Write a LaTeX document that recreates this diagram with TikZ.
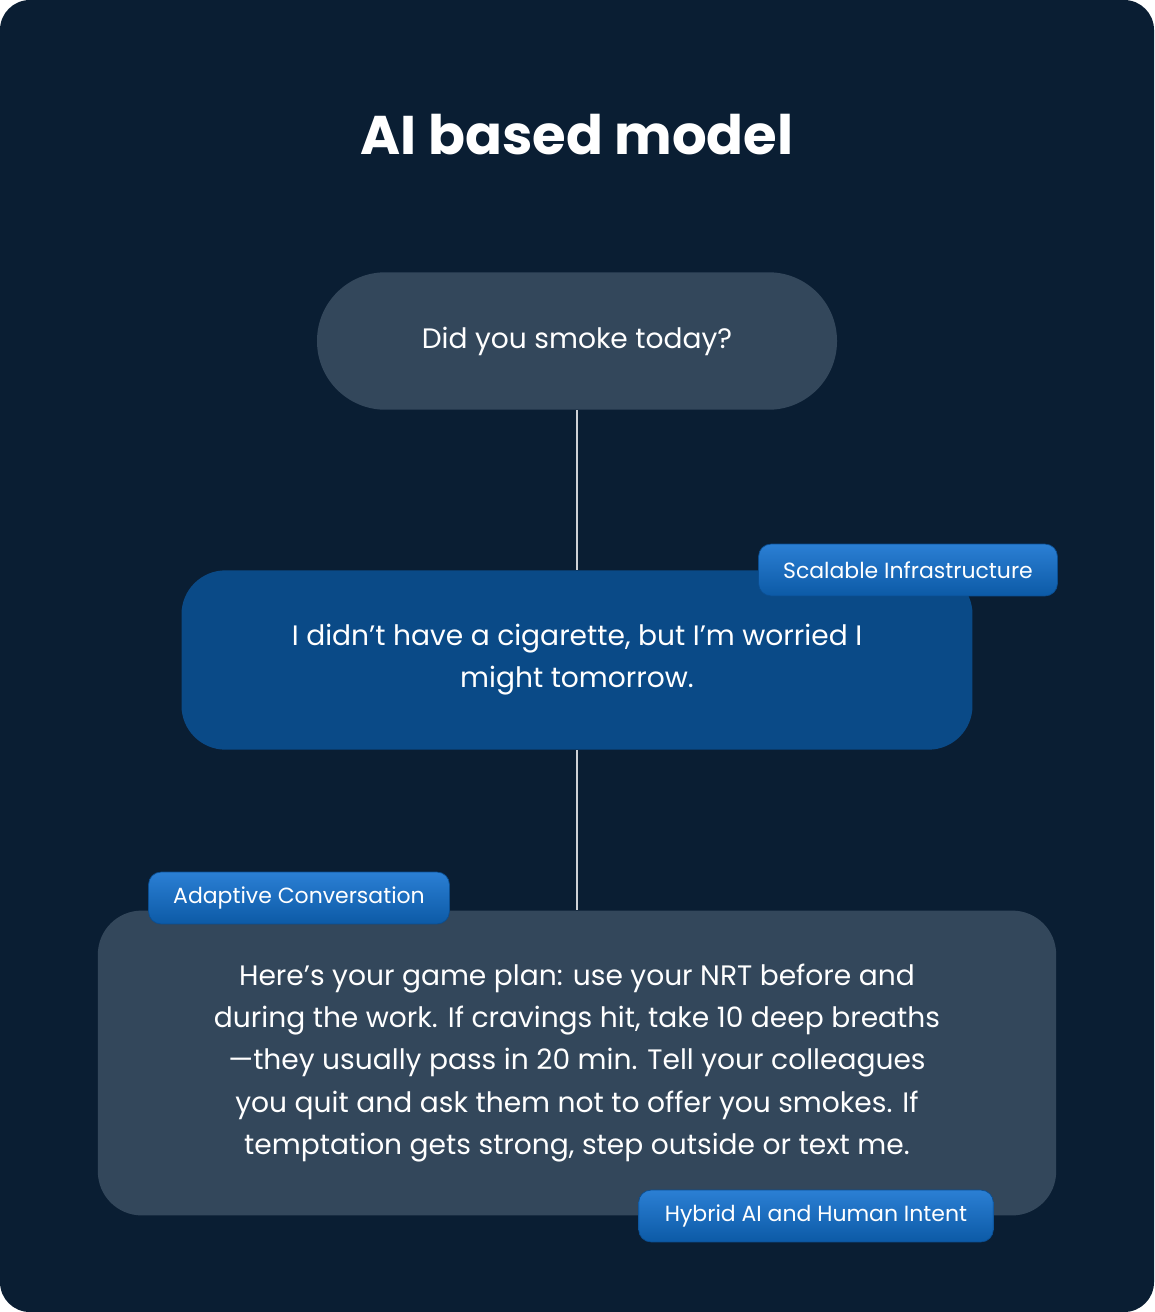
\documentclass[tikz,border=0pt]{standalone}
\usepackage{fontspec}
\setmainfont{Poppins}
\usetikzlibrary{positioning}
\definecolor{bgnavy}{HTML}{0A1E33}
\definecolor{boxgray}{HTML}{33475B}
\definecolor{boxblue}{HTML}{0A4A87}
\definecolor{tagtop}{HTML}{2B7FD4}
\definecolor{tagbot}{HTML}{0C5AA6}
\definecolor{tagedge}{HTML}{0B4E91}
\tikzset{
	bubble/.style={text=white, align=center, inner sep=0pt, font=\fontsize{16}{24}\selectfont},
	tag/.style={rounded corners=7pt, top color=tagtop, bottom color=tagbot, draw=tagedge,
		text=white, minimum height=29.5pt, inner sep=0pt, font=\fontsize{12.5}{14}\selectfont},
	link/.style={draw=white!80!bgnavy, line width=0.6pt}
}
\begin{document}
\begin{tikzpicture}[x=0.02cm, y=-0.02cm]

	% ---- background

	\fill[bgnavy, rounded corners=17pt] (0,0) rectangle (1154,1312);
	\useasboundingbox (0,0) rectangle (1154,1312);

	% ---- title

	\node[text=white, font=\fontsize{31}{36}\selectfont\bfseries] (title) at (577,135) {AI based model};

	% ---- bubbles

	\node[bubble, fill=boxgray, rounded corners=39pt, minimum width=522*0.567pt, minimum height=138*0.567pt]
		(question) at (577,341) {Did you smoke today?};
	\node[bubble, fill=boxblue, rounded corners=25pt, minimum width=794*0.567pt, minimum height=180*0.567pt]
		(answer) at (577,660) {I didn’t have a cigarette, but I’m worried I\\might tomorrow.};
	\node[bubble, fill=boxgray, rounded corners=25pt, minimum width=962*0.567pt, minimum height=306*0.567pt]
		(reply) at (577,1063) {Here's your game plan: use your NRT before and\\during the work. If cravings hit, take 10 deep breaths\\—they usually pass in 20 min. Tell your colleagues\\you quit and ask them not to offer you smokes. If\\temptation gets strong, step outside or text me.};

	% ---- links

	\draw[link] (question) -- (answer);
	\draw[link] (answer) -- (reply);

	% ---- tags

	\node[tag, minimum width=300*0.567pt] (scalable) at (908,570) {Scalable Infrastructure};
	\node[tag, minimum width=302*0.567pt] (adaptive) at (299,898) {Adaptive Conversation};
	\node[tag, minimum width=356*0.567pt] (hybrid) at (816,1216) {Hybrid AI and Human Intent};

\end{tikzpicture}
\end{document}
